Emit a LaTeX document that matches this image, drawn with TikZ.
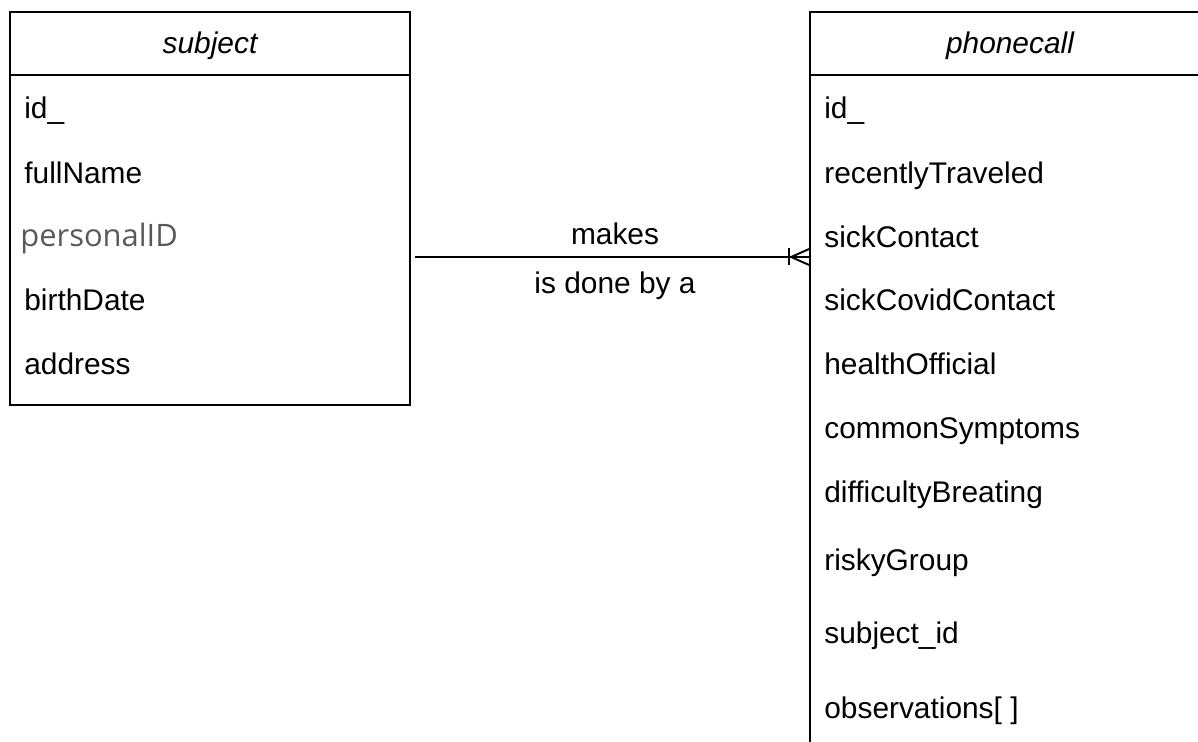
\documentclass[tikz,border=0pt]{standalone}
\usepackage{fontspec}
\setmainfont{Liberation Sans}
\newfontfamily\grayfont{Open Sans}
\usetikzlibrary{positioning}

\begin{document}
\begin{tikzpicture}[x=0.02cm, y=-0.02cm,
		entity/.style={draw=black, line width=1.1pt, rectangle, inner sep=0pt},
		field/.style={anchor=base west, inner sep=0pt, font=\fontsize{17}{20}\selectfont},
		title/.style={anchor=base, inner sep=0pt, font=\fontsize{17}{20}\selectfont\itshape},
		rellabel/.style={anchor=base, inner sep=0pt, font=\fontsize{17}{20}\selectfont},
		rel/.style={draw=black, line width=1.1pt}]
		\useasboundingbox (0,0) rectangle (1198,742);
		\clip (0,0) rectangle (1198,742);
		
		% Draw the two entities
		\node[entity, minimum width=8cm, minimum height=7.86cm] (subject) at (210,208.5) {};
		\node[entity, minimum width=8.2cm, minimum height=14.96cm] (phonecall) at (1015,386) {};
		\draw[rel] (subject.west |- 0,75) -- (subject.east |- 0,75);
		\draw[rel] (phonecall.west |- 0,75) -- (phonecall.east |- 0,75);
		
		% Titles
		\node[title] (subjtitle) at (210,54) {subject};
		\node[title] (calltitle) at (1010,54) {phonecall};
		
		% Fields of subject
		\node[field] (subj-id) at (24,119) {id\_};
		\node[field] (subj-name) at (24,184) {fullName};
		\node[field, font=\grayfont\fontsize{17.6}{20}\selectfont, text=black!65] (subj-pid) at (20,247) {personalID};
		\node[field] (subj-birth) at (24,311) {birthDate};
		\node[field] (subj-addr) at (24,375) {address};
		
		% Fields of phonecall
		\foreach \fname/\fy in {id\_/119, recentlyTraveled/184, sickContact/248, sickCovidContact/311,
			healthOfficial/375, commonSymptoms/439, difficultyBreating/503, riskyGroup/571,
			subject\_id/644, {observations[ ]}/719}
		\node[field] at (824,\fy) {\fname};
		
		% Relationship
		\coordinate (relL) at (415,257);
		\coordinate (cf) at (relL -| phonecall.west);
		\draw[rel] (relL) -- (cf);
		\draw[rel] ([xshift=-0.36cm]cf) -- ([yshift=0.16cm]cf);
		\draw[rel] ([xshift=-0.36cm]cf) -- ([yshift=-0.16cm]cf);
		\draw[rel] ([xshift=-0.4cm, yshift=0.17cm]cf) -- ([xshift=-0.4cm, yshift=-0.17cm]cf);
		\node[rellabel] (makes) at (615,245) {makes};
		\node[rellabel] (doneby) at (615,294) {is done by a};
\end{tikzpicture}
\end{document}
